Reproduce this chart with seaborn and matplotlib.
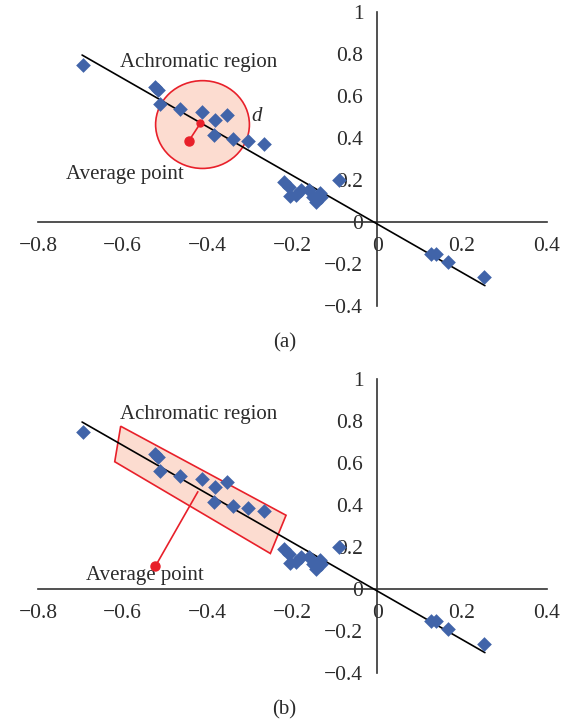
import numpy as np
import pandas as pd
import matplotlib
matplotlib.use('Agg')
import matplotlib.pyplot as plt
import seaborn as sns
from matplotlib.patches import Ellipse, Polygon

# chromaticity points (same set in both panels)
pt_x = [-0.695, -0.525, -0.518, -0.513, -0.466, -0.413, -0.382, -0.355, -0.386,
        -0.340, -0.304, -0.268, -0.219, -0.207, -0.205, -0.191, -0.180, -0.160,
        -0.152, -0.136, -0.144, -0.132, -0.089, 0.126, 0.138, 0.168, 0.252]
pt_y = [0.748, 0.644, 0.629, 0.560, 0.537, 0.525, 0.486, 0.510, 0.414,
        0.395, 0.386, 0.370, 0.192, 0.168, 0.124, 0.129, 0.152, 0.152,
        0.120, 0.137, 0.097, 0.120, 0.200, -0.154, -0.154, -0.192, -0.260]

# fitted line end points
line_x = [-0.696, 0.254]
line_y = [0.795, -0.303]

x_ticks = [-0.8, -0.6, -0.4, -0.2, 0, 0.2, 0.4]
x_labels = ['\u22120.8', '\u22120.6', '\u22120.4', '\u22120.2', '0', '0.2', '0.4']
y_ticks = [-0.4, -0.2, 0, 0.2, 0.4, 0.6, 0.8, 1]
y_labels = ['\u22120.4', '\u22120.2', '0', '0.2', '0.4', '0.6', '0.8', '1']

# annotation points
proj_a = (-0.417, 0.470)
avg_a = (-0.444, 0.387)
proj_b = (-0.423, 0.463)
avg_b = (-0.523, 0.109)

sns.set_style('white')
plt.rcParams['font.family'] = ['Liberation Serif', 'DejaVu Serif']

txt_color = '#2b2b2b'
blue = '#4164a9'
red = '#e8202a'
fill = '#fcdcd0'

df = pd.DataFrame({'x': pt_x, 'y': pt_y})
df_line = pd.DataFrame({'x': line_x, 'y': line_y})

fig = plt.figure(figsize=(5.73, 7.27), dpi=100)
ax_a = fig.add_axes([0.0663, 0.5791, 0.888, 0.4044])
ax_b = fig.add_axes([0.0663, 0.0743, 0.888, 0.4044])


def base_axes(ax):
    ax.set_xlim(-0.8, 0.4)
    ax.set_ylim(-0.4, 1.0)
    for s in ['top', 'right']:
        ax.spines[s].set_visible(False)
    ax.spines['left'].set_position(('data', 0))
    ax.spines['bottom'].set_position(('data', 0))
    for s in ['left', 'bottom']:
        ax.spines[s].set_color('#333333')
        ax.spines[s].set_linewidth(1.2)
    ax.set_xticks(x_ticks)
    ax.set_xticklabels(x_labels)
    ax.set_yticks(y_ticks)
    ax.set_yticklabels(y_labels)
    ax.tick_params(axis='x', direction='out', length=6, width=1.2, color='#333333',
                   labelsize=15.5, labelcolor=txt_color, pad=5)
    ax.tick_params(axis='y', direction='out', length=6, width=1.2, color='#333333',
                   labelsize=15.5, labelcolor=txt_color, pad=4)
    ax.set_xlabel('')
    ax.set_ylabel('')
    ax.patch.set_alpha(0)


# ---- panel (a) ----
ax = ax_a
ax.add_patch(Ellipse((-0.412, 0.464), 2 * 0.1106, 2 * 0.209, facecolor=fill,
                     edgecolor=red, linewidth=1.2, zorder=1))
sns.lineplot(data=df_line, x='x', y='y', color='black', linewidth=1.2, ax=ax, zorder=3)
sns.scatterplot(data=df, x='x', y='y', marker='D', s=56, color=blue, linewidth=0,
                ax=ax, zorder=4, clip_on=False)
ax.plot([avg_a[0], proj_a[0]], [avg_a[1], proj_a[1]], color=red, linewidth=1.2, zorder=5)
ax.plot(*proj_a, 'o', color=red, markersize=5, zorder=6)
ax.plot(*avg_a, 'o', color=red, markersize=6.5, zorder=6)
ax.text(-0.422, 0.759, 'Achromatic region', ha='center', va='center', fontsize=15, color=txt_color)
ax.text(-0.595, 0.224, 'Average point', ha='center', va='center', fontsize=15, color=txt_color)
ax.text(-0.284, 0.501, 'd', ha='center', va='center', fontsize=15, style='italic', color=txt_color)
base_axes(ax)

# ---- panel (b) ----
ax = ax_b
rect = [(-0.605, 0.775), (-0.619, 0.606), (-0.252, 0.169), (-0.215, 0.351)]
ax.add_patch(Polygon(rect, closed=True, facecolor=fill, edgecolor=red, linewidth=1.2, zorder=1))
sns.lineplot(data=df_line, x='x', y='y', color='black', linewidth=1.2, ax=ax, zorder=3)
sns.scatterplot(data=df, x='x', y='y', marker='D', s=56, color=blue, linewidth=0,
                ax=ax, zorder=4, clip_on=False)
ax.plot([avg_b[0], proj_b[0]], [avg_b[1], proj_b[1]], color=red, linewidth=1.2, zorder=5)
ax.plot(*avg_b, 'o', color=red, markersize=6.5, zorder=6)
ax.text(-0.422, 0.831, 'Achromatic region', ha='center', va='center', fontsize=15, color=txt_color)
ax.text(-0.547, 0.066, 'Average point', ha='center', va='center', fontsize=15, color=txt_color)
base_axes(ax)

fig.text(284.5 / 573, 1 - 343 / 727, '(a)', ha='center', va='center', fontsize=15, color=txt_color)
fig.text(284.5 / 573, 1 - 710 / 727, '(b)', ha='center', va='center', fontsize=15, color=txt_color)

fig.savefig('out.png', dpi=100)
